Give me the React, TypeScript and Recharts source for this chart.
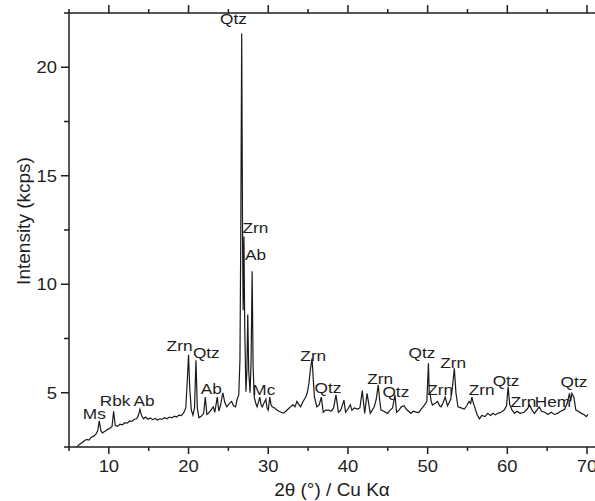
import React from 'react';
import { ComposedChart, Line, Scatter, XAxis, YAxis } from 'recharts';

const twoTheta = [
  6.0, 6.3, 6.6, 6.9, 7.2, 7.5, 7.8, 8.1, 8.4, 8.6, 8.8, 9.0, 9.2, 9.5, 9.8, 10.1, 10.4, 10.6, 10.8,
  11.1, 11.4, 11.7, 12.0, 12.3, 12.6, 12.9, 13.2, 13.5, 13.7, 13.9, 14.1, 14.35, 14.6, 14.9, 15.2,
  15.5, 15.8, 16.1, 16.4, 16.7, 17.0, 17.3, 17.6, 17.9, 18.2, 18.5, 18.8, 19.1, 19.4, 19.65, 19.85,
  20.0, 20.15, 20.35, 20.55, 20.75, 20.93, 21.1, 21.3, 21.6, 21.9, 22.1, 22.3, 22.5, 22.8, 23.1,
  23.3, 23.6, 23.8, 24.0, 24.3, 24.55, 24.8, 25.1, 25.4, 25.65, 25.9, 26.1, 26.3, 26.45, 26.55,
  26.67, 26.78, 26.85, 26.95, 27.05, 27.2, 27.32, 27.43, 27.55, 27.72, 27.85, 27.98, 28.1, 28.25,
  28.45, 28.6, 28.8, 28.94, 29.1, 29.25, 29.5, 29.7, 29.85, 30.0, 30.2, 30.35, 30.5, 30.8, 31.1,
  31.35, 31.6, 31.95, 32.2, 32.5, 32.8, 33.1, 33.35, 33.6, 33.85, 34.06, 34.3, 34.7, 34.9, 35.1,
  35.3, 35.5, 35.65, 35.8, 36.1, 36.4, 36.66, 36.9, 37.2, 37.6, 37.9, 38.2, 38.5, 38.8, 39.1, 39.5,
  39.7, 40.0, 40.3, 40.5, 40.8, 41.2, 41.5, 41.8, 42.1, 42.4, 42.8, 43.05, 43.3, 43.55, 43.8, 44.0,
  44.15, 44.5, 44.95, 45.3, 45.6, 45.9, 46.1, 46.4, 46.7, 47.05, 47.3, 47.6, 47.9, 48.2, 48.6, 48.9,
  49.2, 49.6, 49.9, 50.1, 50.2, 50.3, 50.45, 50.6, 50.9, 51.25, 51.5, 51.7, 51.95, 52.2, 52.5, 52.7,
  52.9, 53.15, 53.35, 53.55, 53.8, 54.2, 54.6, 54.9, 55.2, 55.4, 55.55, 55.75, 55.9, 56.2, 56.5,
  56.8, 57.2, 57.55, 57.9, 58.2, 58.5, 58.8, 59.2, 59.6, 59.9, 60.1, 60.3, 60.6, 60.9, 61.2, 61.6,
  62.1, 62.5, 62.8, 63.1, 63.4, 63.7, 64.0, 64.3, 64.7, 65.1, 65.5, 65.9, 66.3, 66.7, 67.0, 67.2,
  67.5, 67.8, 67.95, 68.1, 68.35, 68.6, 68.9, 69.3, 69.6, 69.9, 70.1,
];

const intensity = [
  2.5, 2.62, 2.7, 2.78, 2.85, 2.82, 2.95, 3.0, 3.1, 3.25, 3.7, 3.25, 3.15, 3.22, 3.3, 3.35, 3.45, 4.15, 3.5,
  3.45, 3.55, 3.52, 3.62, 3.6, 3.7, 3.68, 3.78, 3.8, 3.95, 4.23, 3.95, 3.8, 3.88, 3.78, 3.84,
  3.76, 3.82, 3.74, 3.8, 3.78, 3.85, 3.8, 3.88, 3.84, 3.92, 3.88, 3.97, 3.95, 4.08, 4.3, 5.6,
  6.75, 5.2, 4.2, 3.97, 4.3, 6.5, 4.3, 3.85, 3.92, 4.05, 4.8, 4.0, 4.05, 4.2, 4.35,
  4.1, 4.8, 4.15, 4.4, 5.0, 4.55, 4.35, 4.5, 4.6, 4.4, 4.35, 4.7, 4.9, 6.5, 12.0,
  21.56, 12.0, 8.8, 12.2, 8.0, 5.05, 6.0, 8.6, 6.0, 5.0, 6.5, 10.6, 6.2, 4.8,
  4.5, 4.35, 4.6, 4.8, 4.45, 4.35, 4.55, 4.7, 4.3, 4.2, 4.8, 4.45, 4.35, 4.3, 4.2,
  4.15, 4.1, 4.06, 4.15, 4.25, 4.35, 4.45, 4.35, 4.6, 4.45, 4.35, 4.55, 4.8, 5.0, 5.43,
  6.1, 6.6, 5.6, 4.8, 4.35, 4.45, 4.8, 4.1, 4.2, 4.2, 4.15, 4.3, 4.9, 4.1, 4.2, 4.66,
  4.1, 4.25, 4.45, 4.2, 4.3, 4.25, 4.3, 5.1, 4.05, 4.97, 4.05, 4.2, 4.35, 4.7, 5.36, 4.6,
  4.2, 4.15, 4.05, 4.2, 4.3, 4.9, 4.1, 4.2, 4.35, 4.4, 4.25, 4.15, 4.05, 4.15, 4.1, 4.1,
  4.25, 4.43, 4.6, 6.36, 5.0, 4.97, 4.6, 4.43, 4.5, 4.6, 4.4, 4.35, 4.55, 4.8, 4.4, 4.55,
  4.7, 5.4, 6.13, 5.0, 4.35, 4.3, 4.25, 4.4, 4.6, 4.5, 4.8, 4.5, 4.35, 4.0, 3.8,
  3.95, 3.9, 4.05, 3.95, 4.05, 3.98, 4.05, 4.1, 4.2, 4.4, 5.28, 4.45, 4.2, 4.05, 4.15, 4.05,
  4.1, 4.25, 4.43, 4.2, 4.05, 4.2, 4.35, 4.15, 4.1, 4.0, 4.1, 4.0, 4.05, 4.15, 4.2, 4.25,
  4.5, 4.97, 4.6, 4.97, 4.8, 4.2, 4.15, 4.05, 4.0, 3.9, 4.0,
];

// phase labels: text, 2θ and intensity of the label centre
const phaseNames = [
  'Qtz', 'Zrn', 'Ab', 'Zrn', 'Qtz', 'Ab', 'Ms', 'Rbk', 'Ab', 'Mc', 'Zrn', 'Qtz',
  'Zrn', 'Qtz', 'Qtz', 'Zrn', 'Zrn', 'Zrn', 'Qtz', 'Zrn', 'Hem', 'Qtz',
];
const phaseX = [
  25.63, 28.4, 28.4, 18.87, 22.23, 22.86, 8.18, 10.79, 14.43, 29.44, 35.65, 37.49,
  44.03, 46.01, 49.28, 53.21, 51.58, 56.79, 59.84, 62.02, 65.72, 68.36,
];
const phaseY = [
  22.25, 12.62, 11.37, 7.16, 6.84, 5.22, 4.06, 4.66, 4.66, 5.13, 6.7, 5.26,
  5.68, 5.08, 6.84, 6.38, 5.13, 5.13, 5.59, 4.58, 4.58, 5.51,
];

const xTicks = [5, 10, 15, 20, 25, 30, 35, 40, 45, 50, 55, 60, 65, 70];
const yTicks = [2.5, 5, 7.5, 10, 12.5, 15, 17.5, 20, 22.5];

const FONT = "'Liberation Sans', Arial, sans-serif";
const INK = '#1e1e1e';

const pattern = twoTheta.map((x, i) => ({ x, y: intensity[i] }));
const phases = phaseNames.map((name, i) => ({ x: phaseX[i], y: phaseY[i], name }));

const BottomTick = ({ x, y, payload }: any) => {
  const major = payload.value % 10 === 0;
  return (
    <g>
      <line x1={x} x2={x} y1={y} y2={y + (major ? 7 : 4)} stroke={INK} strokeWidth={1.5} />
      {major && (
        <text
          transform={`translate(${x},${y + 25}) scale(1.15,1)`}
          textAnchor="middle"
          fontSize={16}
          fontFamily={FONT}
          fill={INK}
        >
          {payload.value}
        </text>
      )}
    </g>
  );
};

const TopTick = ({ x, y, payload }: any) => {
  const major = payload.value % 10 === 0;
  return <line x1={x} x2={x} y1={y} y2={y - (major ? 8 : 4)} stroke={INK} strokeWidth={1.5} />;
};

const LeftTick = ({ x, y, payload }: any) => {
  const major = payload.value % 5 === 0;
  return (
    <g>
      <line x1={x - (major ? 8 : 5)} x2={x} y1={y} y2={y} stroke={INK} strokeWidth={1.5} />
      {major && (
        <text
          transform={`translate(${x - 12},${y + 6}) scale(1.15,1)`}
          textAnchor="end"
          fontSize={16}
          fontFamily={FONT}
          fill={INK}
        >
          {payload.value}
        </text>
      )}
    </g>
  );
};

const PhaseLabel = ({ cx, cy, payload }: any) => (
  <text
    transform={`translate(${cx},${cy}) scale(1.15,1)`}
    textAnchor="middle"
    dominantBaseline="central"
    fontSize={15}
    fontFamily={FONT}
    fill={INK}
  >
    {payload.name}
  </text>
);

const YTitle = ({ viewBox }: any) => {
  const cx = viewBox.x + 23;
  const cy = viewBox.y + viewBox.height / 2 - 9;
  return (
    <text
      x={cx}
      y={cy}
      transform={`rotate(-90 ${cx} ${cy})`}
      textAnchor="middle"
      dominantBaseline="central"
      fontSize={19}
      fontFamily={FONT}
      fill={INK}
    >
      Intensity (kcps)
    </text>
  );
};

export default function App() {
  return (
    <div style={{ position: 'absolute', left: 0, top: 0, width: 595, height: 501, background: '#fff' }}>
      <ComposedChart width={595} height={501} margin={{ top: 0, right: 0, bottom: 0, left: 0 }}>
        <XAxis
          xAxisId={0}
          dataKey="x"
          type="number"
          domain={[5, 71]}
          ticks={xTicks}
          interval={0}
          allowDataOverflow
          height={54}
          stroke={INK}
          strokeWidth={1.5}
          tickLine={false}
          tickSize={0}
          tickMargin={0}
          tick={<BottomTick />}
          label={{ value: '2θ (°) / Cu Kα', position: 'insideBottom', offset: 5, fontSize: 19, fontFamily: FONT, fill: INK }}
        />
        <XAxis
          xAxisId="top"
          orientation="top"
          dataKey="x"
          type="number"
          domain={[5, 71]}
          ticks={xTicks}
          interval={0}
          allowDataOverflow
          height={13}
          stroke={INK}
          strokeWidth={1.5}
          tickLine={false}
          tickSize={0}
          tickMargin={0}
          tick={<TopTick />}
        />
        <YAxis
          type="number"
          domain={[2.5, 22.5]}
          ticks={yTicks}
          interval={0}
          allowDataOverflow
          width={69}
          stroke={INK}
          strokeWidth={1.5}
          tickLine={false}
          tickSize={0}
          tickMargin={0}
          tick={<LeftTick />}
          label={{ content: <YTitle /> }}
        />
        <Line
          data={pattern}
          dataKey="y"
          type="linear"
          stroke="#1a1a1a"
          strokeWidth={1.2}
          dot={false}
          activeDot={false}
          isAnimationActive={false}
        />
        <Scatter data={phases} dataKey="y" shape={<PhaseLabel />} isAnimationActive={false} />
      </ComposedChart>
    </div>
  );
}
